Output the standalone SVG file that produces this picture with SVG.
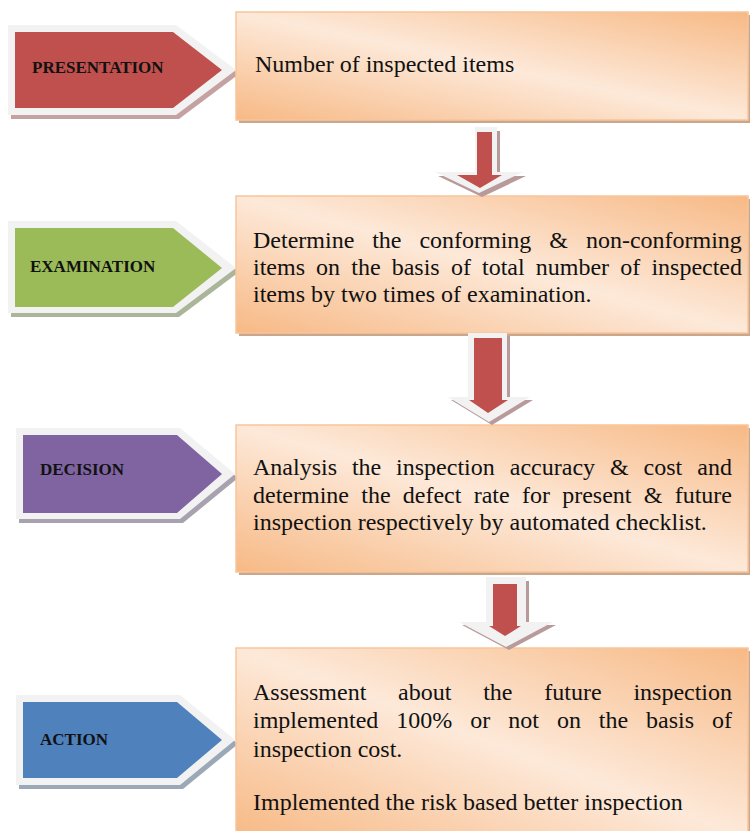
<svg xmlns="http://www.w3.org/2000/svg" width="750" height="831" viewBox="0 0 750 831">
<defs>
<linearGradient id="boxg" x1="0" y1="1" x2="1" y2="0">
<stop offset="0" stop-color="#F7B985"/>
<stop offset="0.5" stop-color="#FDE9D9"/>
<stop offset="1" stop-color="#F7B985"/>
</linearGradient>
<style>
.box{fill:url(#boxg);stroke:#F9C59B;stroke-width:1.5}
.bsh{fill:#C9A78C}
.rim{fill:#F2F2F2}
.lbl{font-family:"Liberation Serif","Times New Roman",serif;font-weight:bold;font-size:17px;fill:#111}
.txt{font-family:"Liberation Serif","Times New Roman",serif;font-size:24px;fill:#111}
.ar{fill:#C0504D}
.arsh{fill:#B89A9B}
</style>
</defs>
<rect width="750" height="831" fill="#FFFFFF"/>

<g id="presentation">
<polygon points="11,29 179,29 239,74 179,119 11,119" fill="#C5A2A1"/>
<polygon class="rim" points="8,25 176,25 236,70 176,115 8,115"/>
<polygon points="15,32 173,32 222,70 173,108 15,108" fill="#C0504D"/>
<text class="lbl" x="32" y="73">PRESENTATION</text>
</g>

<g id="examination">
<polygon points="11,225 179,225 239,272 179,317 11,317" fill="#AAB59A"/>
<polygon class="rim" points="8,221 176,221 236,268 176,313 8,313"/>
<polygon points="15,228 173,228 222,268 173,307 15,307" fill="#9BBB59"/>
<text class="lbl" x="30" y="272">EXAMINATION</text>
</g>

<g id="decision">
<polygon points="19,432 183,432 238,478 183,523 19,523" fill="#A8A1B0"/>
<polygon class="rim" points="16,428 180,428 235,474 180,519 16,519"/>
<polygon points="23,435 177,435 222,474 177,513 23,513" fill="#8064A2"/>
<text class="lbl" x="40" y="475">DECISION</text>
</g>

<g id="action">
<polygon points="19,699 183,699 238,744 183,789 19,789" fill="#9AA8B8"/>
<polygon class="rim" points="16,695 180,695 235,740 180,785 16,785"/>
<polygon points="23,702 177,702 222,740 177,778 23,778" fill="#4F81BD"/>
<text class="lbl" x="40" y="745">ACTION</text>
</g>

<g id="box1">
<rect class="bsh" x="239" y="15" width="512" height="108"/>
<rect class="box" x="236" y="12" width="512" height="108"/>
<text class="txt" x="255" y="72">Number of inspected items</text>
</g>

<g id="box2">
<rect class="bsh" x="239" y="199" width="512" height="137"/>
<rect class="box" x="236" y="196" width="512" height="137"/>
<text class="txt" y="248"><tspan x="253">Determine</tspan><tspan x="372.2">the</tspan><tspan x="419.4">conforming</tspan><tspan x="549.3">&amp;</tspan><tspan x="585.9">non-conforming</tspan></text>
<text class="txt" y="275"><tspan x="253">items</tspan><tspan x="316.1">on</tspan><tspan x="351.3">the</tspan><tspan x="391.7">basis</tspan><tspan x="450.9">of</tspan><tspan x="482">total</tspan><tspan x="535.8">number</tspan><tspan x="620.3">of</tspan><tspan x="651.4">inspected</tspan></text>
<text class="txt" x="253" y="302">items by two times of examination.</text>
</g>

<g id="box3">
<rect class="bsh" x="239" y="428" width="512" height="147"/>
<rect class="box" x="236" y="425" width="512" height="147"/>
<text class="txt" y="475"><tspan x="253">Analysis</tspan><tspan x="351.9">the</tspan><tspan x="396.1">inspection</tspan><tspan x="509.8">accuracy</tspan><tspan x="610">&amp;</tspan><tspan x="643.6">cost</tspan><tspan x="697.3">and</tspan></text>
<text class="txt" y="503"><tspan x="253">determine</tspan><tspan x="361.3">the</tspan><tspan x="402.8">defect</tspan><tspan x="473.7">rate</tspan><tspan x="522">for</tspan><tspan x="562.2">present</tspan><tspan x="643.8">&amp;</tspan><tspan x="674.7">future</tspan></text>
<text class="txt" x="253" y="530">inspection respectively by automated checklist.</text>
</g>

<g id="box4">
<rect class="bsh" x="239" y="651" width="512" height="190"/>
<rect class="box" x="236" y="648" width="512" height="190"/>
<text class="txt" y="700"><tspan x="253">Assessment</tspan><tspan x="398.1">about</tspan><tspan x="483.2">the</tspan><tspan x="544.3">future</tspan><tspan x="633.4">inspection</tspan></text>
<text class="txt" y="728"><tspan x="253">implemented</tspan><tspan x="396.3">100%</tspan><tspan x="470.2">or</tspan><tspan x="508.2">not</tspan><tspan x="556.9">on</tspan><tspan x="598.8">the</tspan><tspan x="646.1">basis</tspan><tspan x="712">of</tspan></text>
<text class="txt" x="253" y="757">inspection cost.</text>
<text class="txt" x="253" y="810">Implemented the risk based better inspection</text>
</g>

<g id="connectors">
<g id="arrow1">
<polygon class="arsh" points="478,131 500,131 500,176 526,176 482,197 438,176 478,176"/>
<polygon class="rim" points="475,127 497,127 497,172 523,172 479,193 435,172 475,172"/>
<polygon class="ar" points="477,132 492,132 492,175 502,175 480,188 457,175 477,175"/>
</g>
<g id="arrow2">
<polygon class="arsh" points="471,336 510,336 510,400 533,400 492,425 451,400 471,400"/>
<polygon class="rim" points="468,333 507,333 507,397 530,397 489,422 448,397 468,397"/>
<polygon class="ar" points="474,338 502,338 502,400 508,400 488,413 469,400 474,400"/>
</g>
<g id="arrow3">
<polygon class="arsh" points="489,581 529,581 529,625 556,625 509,650 462,625 489,625"/>
<polygon class="rim" points="486,577 526,577 526,622 553,622 506,647 459,622 486,622"/>
<polygon class="ar" points="493,584 517,584 517,626 521,626 505,636 489,626 493,626"/>
</g>
</g>
</svg>
